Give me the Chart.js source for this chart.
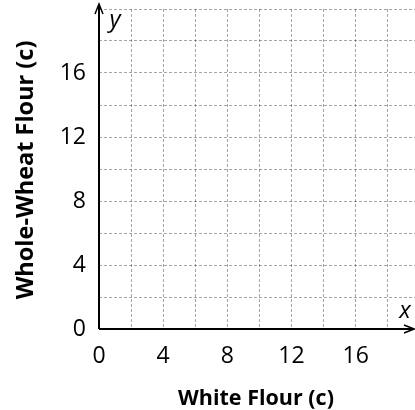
<!DOCTYPE html>
<html>
<head>
<meta charset="utf-8">
<script src="https://cdn.jsdelivr.net/npm/chart.js@4"></script>
<style>
  html, body { margin: 0; padding: 0; background: #fff; }
  #wrap { width: 415px; height: 410px; }
</style>
</head>
<body>
<div id="wrap"><canvas id="chart"></canvas></div>
<script>
// axis values
const xGridValues = [0, 2, 4, 6, 8, 10, 12, 14, 16, 18];
const yGridValues = [0, 2, 4, 6, 8, 10, 12, 14, 16, 18, 20];
const xLabelValues = [0, 4, 8, 12, 16];
const yLabelValues = [0, 4, 8, 12, 16];
const xTitle = 'White Flour (c)';
const yTitle = 'Whole-Wheat Flour (c)';
// the grid is blank: no points plotted yet
const points = [];

const tickFont = { family: 'Open Sans', size: 23 };

// axis lines with arrows, x / y letters and axis titles
const axesPlugin = {
  id: 'axesPlugin',
  afterDraw(chart) {
    const { ctx } = chart;
    const x0 = chart.scales.x.getPixelForValue(0);
    const y0 = chart.scales.y.getPixelForValue(0);
    ctx.save();
    ctx.strokeStyle = '#000';
    ctx.lineWidth = 2;
    ctx.beginPath();
    ctx.moveTo(x0, y0);
    ctx.lineTo(x0, 4);
    ctx.moveTo(x0, y0);
    ctx.lineTo(413, y0);
    ctx.stroke();

    ctx.lineWidth = 1.5;
    ctx.beginPath();
    ctx.moveTo(x0 - 4, 14);
    ctx.lineTo(x0, 4);
    ctx.lineTo(x0 + 4, 14);
    ctx.moveTo(404, y0 - 4);
    ctx.lineTo(414, y0);
    ctx.lineTo(404, y0 + 4);
    ctx.stroke();

    ctx.fillStyle = '#000';
    ctx.font = 'italic 24px "Open Sans"';
    ctx.textAlign = 'center';
    ctx.textBaseline = 'alphabetic';
    ctx.fillText('y', 115, 27);
    ctx.fillText('x', 405, 318);

    ctx.font = 'bold 21.5px "Open Sans"';
    ctx.fillText(xTitle, 256, 405);

    ctx.font = 'bold 23.5px "Open Sans"';
    ctx.translate(33, 170);
    ctx.rotate(-Math.PI / 2);
    ctx.fillText(yTitle, 0, 0);
    ctx.restore();
  }
};

const gridStyle = {
  color: 'rgba(0,0,0,0.35)',
  lineWidth: 1,
  drawTicks: false
};

new Chart(document.getElementById('chart'), {
  type: 'scatter',
  data: {
    datasets: [{
      data: points,
      backgroundColor: '#000',
      pointRadius: 4
    }]
  },
  options: {
    responsive: true,
    maintainAspectRatio: false,
    animation: false,
    layout: { padding: { top: 9, left: 0, right: 0, bottom: 0 } },
    plugins: {
      legend: { display: false },
      tooltip: { enabled: false }
    },
    scales: {
      x: {
        type: 'linear',
        min: 0,
        max: 19.7,
        afterFit(scale) {
          scale.height = 81;
          scale.paddingLeft = 0;
          scale.paddingRight = 0;
        },
        afterBuildTicks(scale) {
          scale.ticks = xGridValues.map(v => ({ value: v }));
        },
        border: { display: false, dash: [3, 2] },
        grid: gridStyle,
        ticks: {
          padding: 14,
          color: '#000',
          font: tickFont,
          maxRotation: 0,
          autoSkip: false,
          callback: v => xLabelValues.includes(v) ? String(v) : ''
        }
      },
      y: {
        type: 'linear',
        min: 0,
        max: 20,
        afterFit(scale) {
          scale.width = 99;
          scale.paddingTop = 0;
          scale.paddingBottom = 0;
        },
        afterBuildTicks(scale) {
          scale.ticks = yGridValues.map(v => ({ value: v }));
        },
        border: { display: false, dash: [3, 2] },
        grid: gridStyle,
        ticks: {
          padding: 13,
          color: '#000',
          font: tickFont,
          autoSkip: false,
          callback: v => yLabelValues.includes(v) ? String(v) : ''
        }
      }
    }
  },
  plugins: [axesPlugin]
});
</script>
</body>
</html>
